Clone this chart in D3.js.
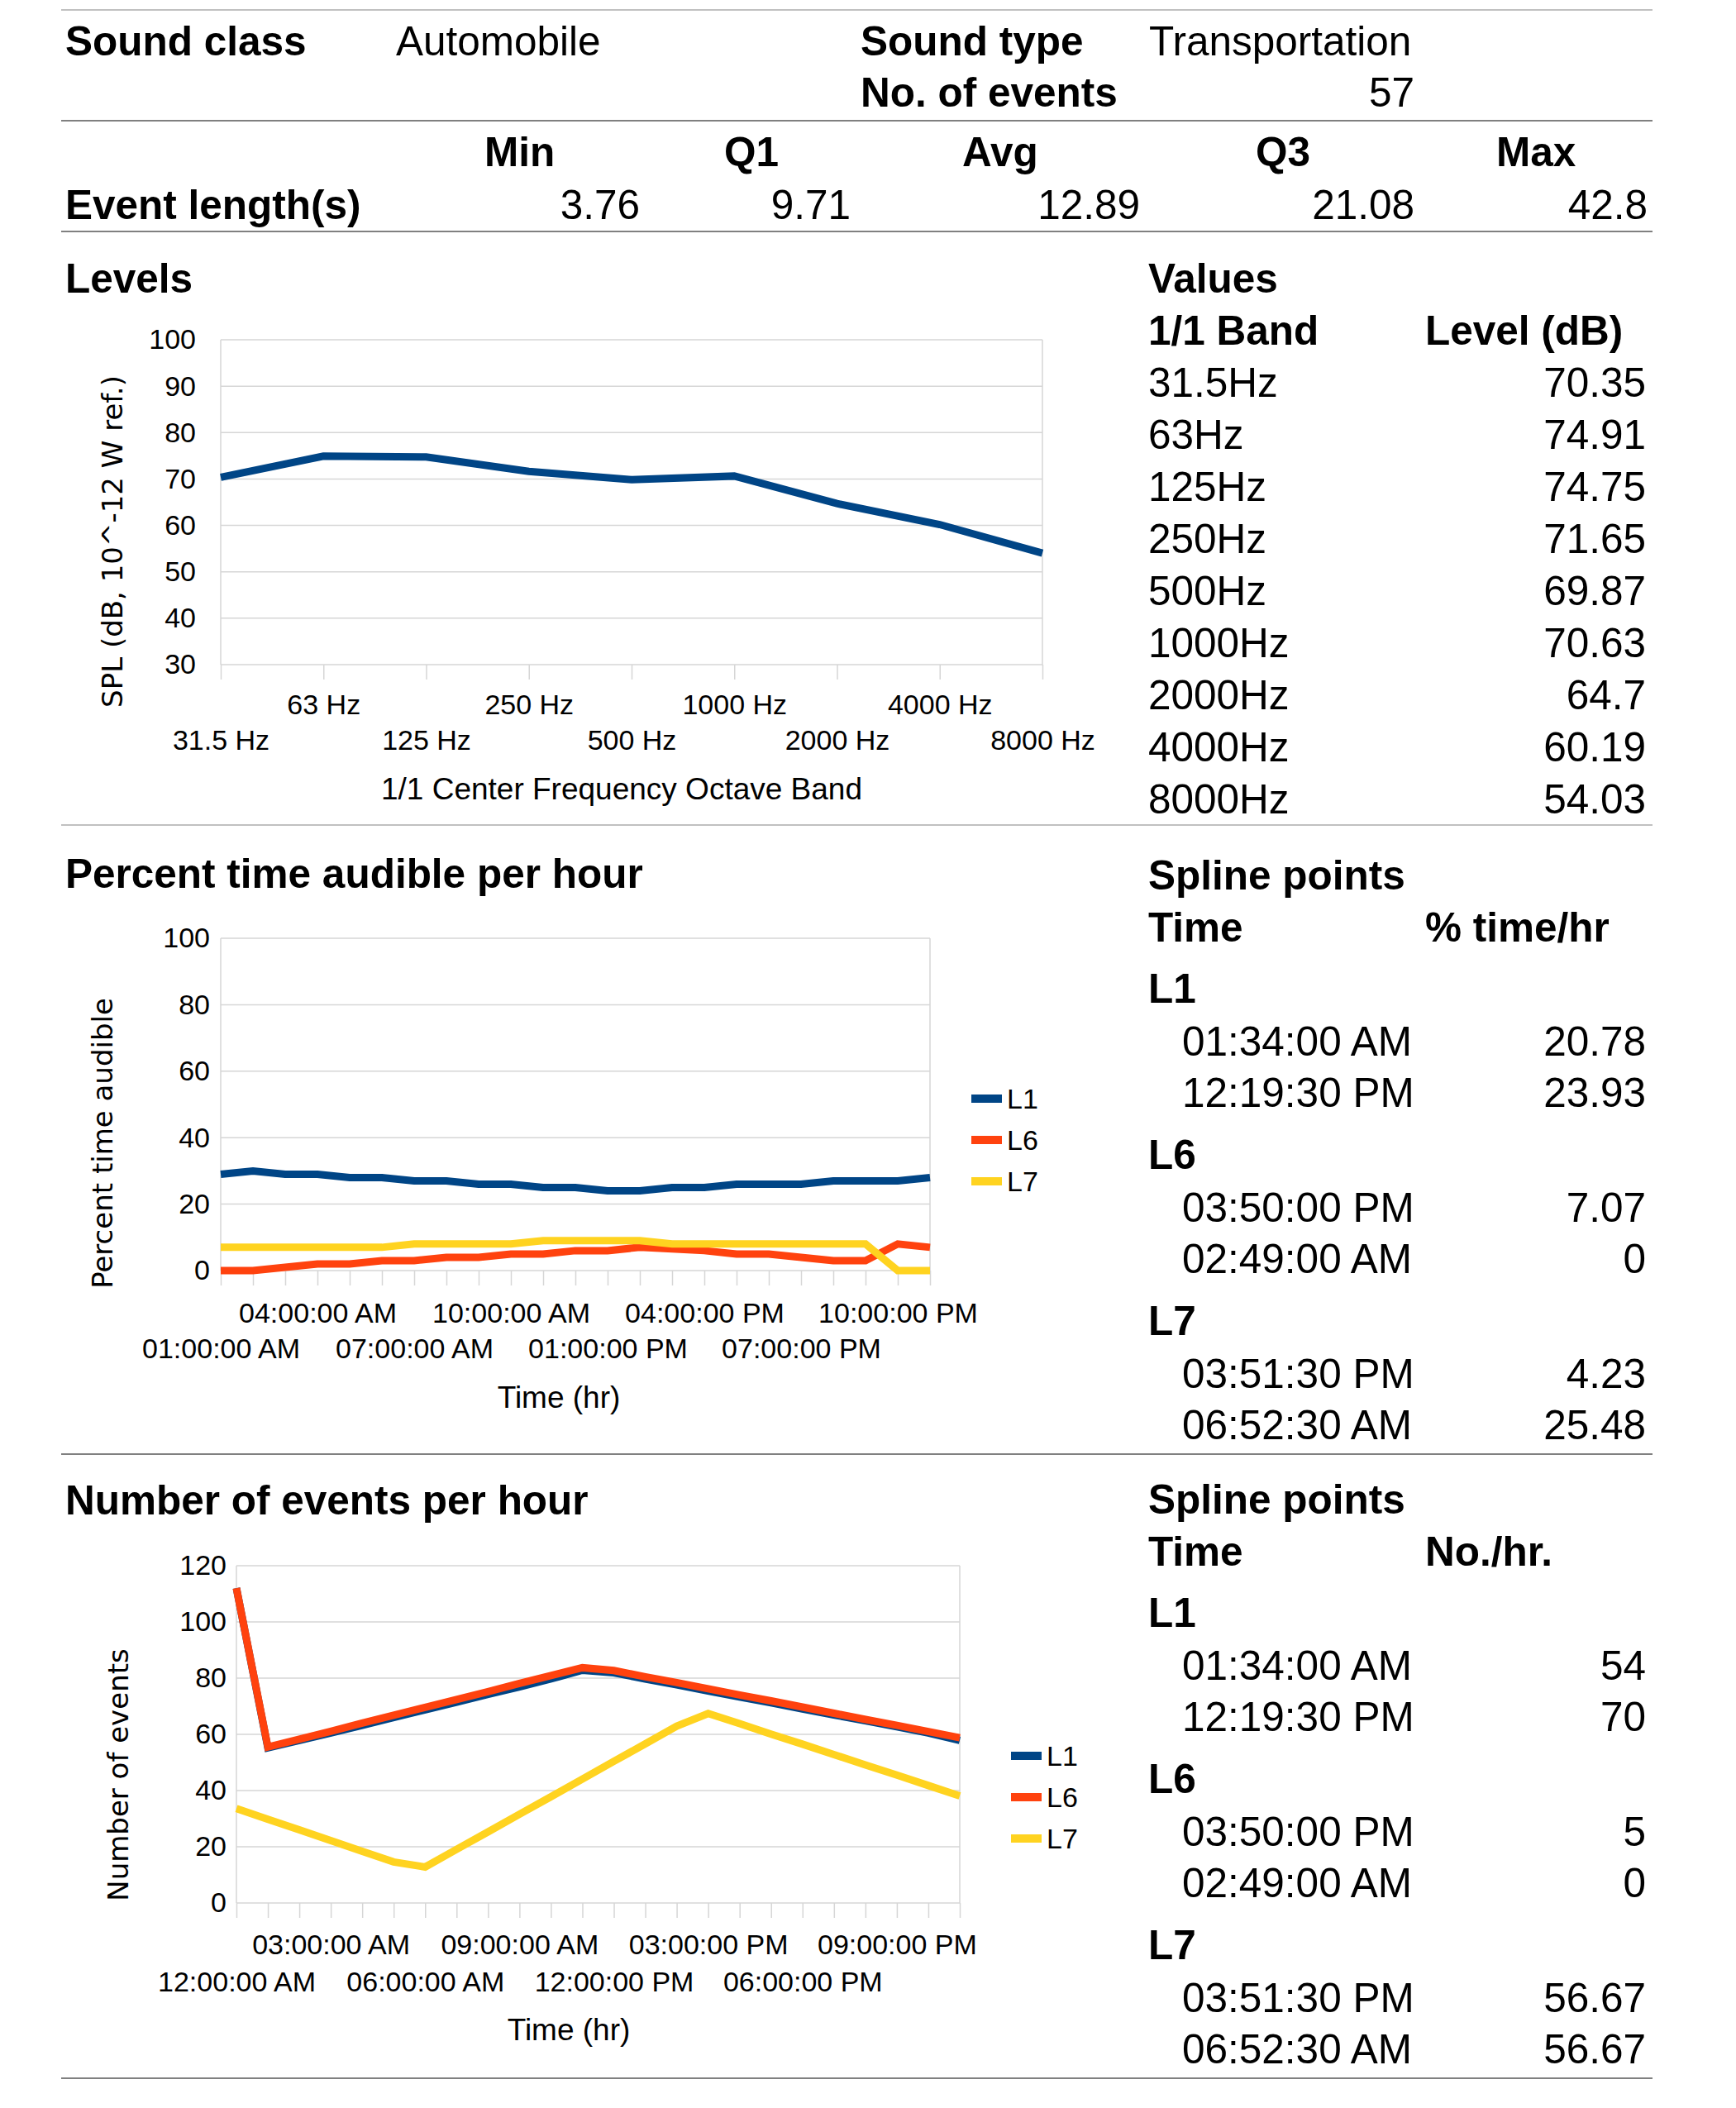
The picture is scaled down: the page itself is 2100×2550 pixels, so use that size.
<!DOCTYPE html>
<html>
<head>
<meta charset="utf-8">
<script src="https://cdn.jsdelivr.net/npm/d3@7"></script>
<style>
  body { margin: 0; background: #fff; }
  text { font-family: "Liberation Sans", Arial, sans-serif; fill: #000; }
</style>
</head>
<body>
<svg id="page" width="2100" height="2550"></svg>
<script>
// ---- data ----
var soundClass = "Automobile";
var soundType = "Transportation";
var eventCount = 57;
var statNames = ["Min", "Q1", "Avg", "Q3", "Max"];
var eventLength = [3.76, 9.71, 12.89, 21.08, 42.8];

var bandTicks = ["31.5 Hz", "63 Hz", "125 Hz", "250 Hz", "500 Hz", "1000 Hz", "2000 Hz", "4000 Hz", "8000 Hz"];
var bandNames = ["31.5Hz", "63Hz", "125Hz", "250Hz", "500Hz", "1000Hz", "2000Hz", "4000Hz", "8000Hz"];
var bandLevels = [70.35, 74.91, 74.75, 71.65, 69.87, 70.63, 64.7, 60.19, 54.03];

var pctHours = ["01:00:00 AM", "02:00:00 AM", "03:00:00 AM", "04:00:00 AM", "05:00:00 AM", "06:00:00 AM",
  "07:00:00 AM", "08:00:00 AM", "09:00:00 AM", "10:00:00 AM", "11:00:00 AM", "12:00:00 PM",
  "01:00:00 PM", "02:00:00 PM", "03:00:00 PM", "04:00:00 PM", "05:00:00 PM", "06:00:00 PM",
  "07:00:00 PM", "08:00:00 PM", "09:00:00 PM", "10:00:00 PM", "11:00:00 PM"];
var pctL1 = [29, 30, 29, 29, 28, 28, 27, 27, 26, 26, 25, 25, 24, 24, 25, 25, 26, 26, 26, 27, 27, 27, 28];
var pctL6 = [0, 0, 1, 2, 2, 3, 3, 4, 4, 5, 5, 6, 6, 7, 6.5, 6, 5, 5, 4, 3, 3, 8, 7];
var pctL7 = [7, 7, 7, 7, 7, 7, 8, 8, 8, 8, 9, 9, 9, 9, 8, 8, 8, 8, 8, 8, 8, 0, 0];

var numHours = ["12:00:00 AM", "01:00:00 AM", "02:00:00 AM", "03:00:00 AM", "04:00:00 AM", "05:00:00 AM",
  "06:00:00 AM", "07:00:00 AM", "08:00:00 AM", "09:00:00 AM", "10:00:00 AM", "11:00:00 AM",
  "12:00:00 PM", "01:00:00 PM", "02:00:00 PM", "03:00:00 PM", "04:00:00 PM", "05:00:00 PM",
  "06:00:00 PM", "07:00:00 PM", "08:00:00 PM", "09:00:00 PM", "10:00:00 PM", "11:00:00 PM"];
var numL1 = [112, 55.2, 57.8, 60.5, 63.2, 66, 68.7, 71.4, 74.2, 76.9, 79.7, 82.8, 81.9, 79.7, 77.6, 75.4, 73.3, 71.2, 69, 66.9, 64.8, 62.7, 60.5, 57.8];
var numL6 = [112, 55.5, 58.3, 61.1, 64, 66.8, 69.6, 72.4, 75.2, 78.1, 80.9, 83.7, 82.7, 80.5, 78.4, 76.2, 74, 71.9, 69.7, 67.5, 65.3, 63.2, 61, 58.8];
var numL7 = [33.6, 29.8, 26, 22.2, 18.4, 14.6, 12.8, 19.1, 25.3, 31.6, 37.8, 44.1, 50.4, 56.6, 62.9, 67.4, 63.8, 60.1, 56.5, 52.8, 49.1, 45.5, 41.8, 38.1];

var seriesNames = ["L1", "L6", "L7"];
var seriesColors = ["#004586", "#ff420e", "#ffd320"];

var splineTimes = [["01:34:00 AM", "12:19:30 PM"], ["03:50:00 PM", "02:49:00 AM"], ["03:51:30 PM", "06:52:30 AM"]];
var splinePct = [[20.78, 23.93], [7.07, 0], [4.23, 25.48]];
var splineNum = [[54, 70], [5, 0], [56.67, 56.67]];

var svg = d3.select("#page");
var big = 49.5;   // report text size
var small = 34;   // chart text size

// small helper for plain text
function txt(x, y, s, size, bold, anchor) {
  return svg.append("text")
    .attr("x", x).attr("y", y)
    .attr("font-size", size)
    .attr("font-weight", bold ? "bold" : "normal")
    .attr("text-anchor", anchor || "start")
    .text(s);
}

function rule(y, color) {
  svg.append("line")
    .attr("x1", 74).attr("x2", 1999)
    .attr("y1", y).attr("y2", y)
    .attr("stroke", color).attr("stroke-width", 2);
}

// ---- header block ----
rule(12, "#c0c0c0");
txt(79, 67, "Sound class", big, true);
txt(479, 67, soundClass, big, false);
txt(1041, 67, "Sound type", big, true);
txt(1390, 67, soundType, big, false);
txt(1041, 129, "No. of events", big, true);
txt(1711, 129, eventCount, big, false, "end");
rule(146, "#808080");

var statHeadX = [586, 876, 1164, 1519, 1810];
var statValX = [774, 1029, 1379, 1711, 1993];
statNames.forEach(function (n, i) { txt(statHeadX[i], 201, n, big, true); });
txt(79, 265, "Event length(s)", big, true);
eventLength.forEach(function (v, i) { txt(statValX[i], 265, v, big, false, "end"); });
rule(280, "#808080");

// ---- line chart class ----
class LineChart {

  constructor(opts) {
    this.opts = opts;
    this.draw();
  }

  draw() {
    var o = this.opts;
    var g = svg.append("g");

    var x = d3.scalePoint().domain(o.cats).range([o.left, o.right]).padding(0);
    var y = d3.scaleLinear().domain(o.yDomain).range([o.bottom, o.top]);

    // horizontal grid
    g.append("g").selectAll("line").data(o.yTicks).join("line")
      .attr("x1", o.left).attr("x2", o.right)
      .attr("y1", function (d) { return y(d); }).attr("y2", function (d) { return y(d); })
      .attr("stroke", "#d6d6d6").attr("stroke-width", 1.5);

    // frame sides
    [o.left, o.right].forEach(function (xx) {
      g.append("line").attr("x1", xx).attr("x2", xx)
        .attr("y1", o.top).attr("y2", o.bottom)
        .attr("stroke", "#d6d6d6").attr("stroke-width", 1.5);
    });

    // x ticks hanging below the plot
    var xt = g.append("g").attr("transform", "translate(0," + o.bottom + ")")
      .call(d3.axisBottom(x).tickSize(18).tickFormat(""));
    xt.select(".domain").remove();
    xt.selectAll("line").attr("stroke", "#d6d6d6").attr("stroke-width", 1.5);

    // y labels
    var ya = g.append("g").attr("transform", "translate(" + o.left + ",0)")
      .call(d3.axisLeft(y).tickValues(o.yTicks).tickSize(0).tickPadding(o.yPad));
    ya.select(".domain").remove();
    ya.selectAll("text").attr("font-size", small).attr("font-family", "Liberation Sans, Arial, sans-serif");

    // x labels in two staggered rows
    o.labelRows.forEach(function (row) {
      var xa = g.append("g").attr("transform", "translate(0," + row.y + ")")
        .call(d3.axisBottom(x).tickValues(row.cats).tickSize(0));
      xa.select(".domain").remove();
      xa.selectAll("text").attr("y", 0).attr("dy", 0)
        .attr("font-size", small).attr("font-family", "Liberation Sans, Arial, sans-serif");
    });

    // series lines
    var line = d3.line()
      .x(function (d, i) { return x(o.cats[i]); })
      .y(function (d) { return y(d); });
    o.series.forEach(function (s, i) {
      g.append("path").datum(s)
        .attr("d", line)
        .attr("fill", "none")
        .attr("stroke", o.colors[i])
        .attr("stroke-width", 9)
        .attr("stroke-linejoin", "miter")
        .attr("stroke-linecap", "butt");
    });

    // axis titles
    txt(o.xTitle.x, o.xTitle.y, o.xTitle.text, 37, false, "middle");
    svg.append("text")
      .attr("transform", "translate(" + o.yTitle.x + "," + o.yTitle.y + ") rotate(-90)")
      .attr("text-anchor", "middle")
      .attr("dominant-baseline", "central")
      .attr("font-size", 34)
      .style("font-family", "'DejaVu Sans', sans-serif")
      .text(o.yTitle.text);

    // legend
    if (o.legend) {
      o.legend.names.forEach(function (n, i) {
        var ly = o.legend.y + i * 50;
        g.append("rect").attr("x", o.legend.x).attr("y", ly - 5)
          .attr("width", 37).attr("height", 10).attr("fill", o.colors[i]);
        g.append("text").attr("x", o.legend.x + 43).attr("y", ly)
          .attr("dominant-baseline", "central")
          .attr("font-size", small).text(n);
      });
    }
  }
}

function everyThird(cats, start) {
  return cats.filter(function (d, i) { return i % 6 === start; });
}

// ---- Levels ----
txt(79, 354, "Levels", big, true);
new LineChart({
  cats: bandTicks, series: [bandLevels], colors: [seriesColors[0]],
  left: 267, right: 1261, top: 411, bottom: 804,
  yDomain: [30, 100], yTicks: d3.range(30, 101, 10), yPad: 30,
  labelRows: [
    { y: 864, cats: bandTicks.filter(function (d, i) { return i % 2 === 1; }) },
    { y: 907, cats: bandTicks.filter(function (d, i) { return i % 2 === 0; }) }
  ],
  xTitle: { x: 752, y: 967, text: "1/1 Center Frequency Octave Band" },
  yTitle: { x: 136, y: 655, text: "SPL (dB, 10^-12 W ref.)" }
});

txt(1389, 354, "Values", big, true);
txt(1389, 417, "1/1 Band", big, true);
txt(1724, 417, "Level (dB)", big, true);
bandNames.forEach(function (b, i) {
  txt(1389, 480 + i * 63, b, big, false);
  txt(1991, 480 + i * 63, bandLevels[i], big, false, "end");
});
rule(998, "#c0c0c0");

// ---- Percent time audible ----
txt(79, 1074, "Percent time audible per hour", big, true);
new LineChart({
  cats: pctHours, series: [pctL1, pctL6, pctL7], colors: seriesColors,
  left: 267, right: 1125, top: 1135, bottom: 1537,
  yDomain: [0, 100], yTicks: d3.range(0, 101, 20), yPad: 13,
  labelRows: [
    { y: 1600, cats: everyThird(pctHours, 3) },
    { y: 1643, cats: everyThird(pctHours, 0) }
  ],
  xTitle: { x: 676, y: 1703, text: "Time (hr)" },
  yTitle: { x: 124, y: 1383, text: "Percent time audible" },
  legend: { x: 1175, y: 1329, names: seriesNames }
});

function splineBlock(top, valHead, vals) {
  txt(1389, top, "Spline points", big, true);
  txt(1389, top + 63, "Time", big, true);
  txt(1724, top + 63, valHead, big, true);
  seriesNames.forEach(function (n, k) {
    var base = top + 137 + k * 201;
    txt(1389, base, n, big, true);
    splineTimes[k].forEach(function (t, j) {
      txt(1430, base + 64 + j * 62, t, big, false);
      txt(1991, base + 64 + j * 62, vals[k][j], big, false, "end");
    });
  });
}
splineBlock(1076, "% time/hr", splinePct);
rule(1759, "#808080");

// ---- Number of events ----
txt(79, 1832, "Number of events per hour", big, true);
new LineChart({
  cats: numHours, series: [numL1, numL6, numL7], colors: seriesColors,
  left: 286, right: 1161, top: 1894, bottom: 2302,
  yDomain: [0, 120], yTicks: d3.range(0, 121, 20), yPad: 12,
  labelRows: [
    { y: 2364, cats: everyThird(numHours, 3) },
    { y: 2409, cats: everyThird(numHours, 0) }
  ],
  xTitle: { x: 688, y: 2468, text: "Time (hr)" },
  yTitle: { x: 143, y: 2147, text: "Number of events" },
  legend: { x: 1223, y: 2124, names: seriesNames }
});

splineBlock(1831, "No./hr.", splineNum);
rule(2514, "#808080");
</script>
</body>
</html>
